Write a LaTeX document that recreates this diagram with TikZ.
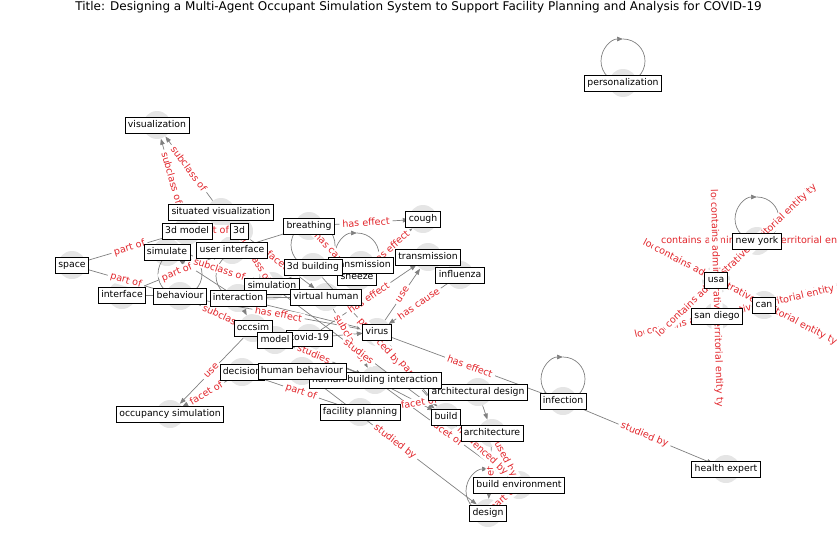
\documentclass[tikz,border=0pt]{standalone}
\usepackage{fontspec}
\setmainfont{DejaVu Sans}
\usetikzlibrary{arrows.meta}
\definecolor{labred}{RGB}{226,38,44}
\definecolor{edgegray}{RGB}{128,128,128}
\newcommand\nodefont{\fontsize{9.3}{11}\selectfont}
\newcommand\labfont{\fontsize{9.6}{11}\selectfont}
\newcommand\ttlfont{\fontsize{12}{14}\selectfont}

% concepts: name/x/y/text, boxes are stacked in this order
\def\concepts{personalization/623/83/personalization, visualization/157/125/visualization,
  sitvis/221/212/situated visualization, model3d/187/231/3d model, td/239/231/3d,
  breathing/309/226/breathing, cough/423/219/cough, simulate/167/252/simulate,
  ui/232/250/user interface, sneeze/357/277/sneeze, transA/361/265/transmission,
  building3d/313/267/3d building, transB/428/257/transmission, influenza/460/275/influenza,
  space/72/265/space, interface/122/295/interface, behaviour/180/296/behaviour,
  simulation/272/286/simulation, interaction/238/298/interaction, vhuman/326/297/virtual human,
  occsim/253/328/occsim, covid/309/338/covid-19, model/275/340/model, virus/377/332/virus,
  decision/242/372/decision, archdesign/478/392/architectural design,
  hbi/375/380/human building interaction, hbeh/302/371/human behaviour,
  infection/563/401/infection, occsimulation/170/414/occupancy simulation,
  facility/360/412/facility planning, build/446/417/build, architecture/492/433/architecture,
  buildenv/519/485/build environment, design/488/513/design, health/726/469/health expert,
  usa/716/280/usa, newyork/757/241/new york, can/764/305/can, sandiego/717/316/san diego}

% relations: from/to/label
\def\rels{model3d/visualization/subclass of, sitvis/visualization/subclass of,
  model3d/td/part of, space/model3d/part of, space/behaviour/part of,
  interface/ui/part of, simulate/simulation/subclass of, td/simulation/subclass of,
  td/vhuman/facet of, behaviour/model/subclass of, occsim/occsimulation/use,
  decision/occsimulation/facet of, breathing/cough/has effect, breathing/sneeze/has cause,
  sneeze/cough/has effect, covid/transB/has effect, virus/transB/use,
  influenza/virus/has cause, virus/behaviour/has effect, vhuman/hbi/subclass of,
  simulation/build/studies, building3d/build/produced by, build/virus/part of,
  occsim/hbi/studies, decision/facility/part of, virus/infection/has effect,
  infection/health/studied by, hbeh/design/studied by, facility/archdesign/facet of,
  hbi/buildenv/facet of, architecture/design/facet of, architecture/buildenv/used by,
  build/buildenv/influenced by, buildenv/design/part of,
  sandiego/can/located in the administrative territorial entity,
  can/sandiego/contains administrative territorial entity,
  can/usa/located in the administrative territorial entity,
  usa/can/contains administrative territorial entity,
  newyork/usa/located in the administrative territorial entity,
  usa/newyork/contains administrative territorial entity,
  sandiego/usa/located in the administrative territorial entity,
  usa/sandiego/contains administrative territorial entity}

\begin{document}
\begin{tikzpicture}[x=1pt, y=1pt, >={Triangle[length=6pt,width=4.5pt]},
    dot/.style={circle, fill=gray!20, minimum size=28pt, inner sep=0pt},
    concept/.style={draw, fill=white, line width=0.6pt, inner xsep=3pt, inner ysep=3.5pt,
      text height=7pt, text depth=2pt, font=\nodefont},
    rel/.style={->, draw=edgegray, line width=0.7pt},
    lab/.style={sloped, fill=white, text=labred, inner xsep=2.8pt, inner ysep=1pt, font=\labfont}]

  \useasboundingbox (0,0) rectangle (837,-559);

  \node[font=\ttlfont] (title) at (418.5,-7) {Title: Designing a Multi-Agent Occupant Simulation System to Support Facility Planning and Analysis for COVID-19};

  \foreach \n/\x/\y/\t in \concepts
    \node[dot] (\n) at (\x,-\y) {};

  % edges first, labels on top of them
  \foreach \a/\b/\t in \rels
    \draw[rel] (\a) -- (\b);
  \foreach \a/\b in {breathing/ui, vhuman/interaction, interaction/virus, simulation/building3d,
      archdesign/architecture, model/hbi, hbi/build, interface/behaviour, interaction/simulate,
      interaction/occsim, covid/virus}
    \draw[rel] (\a) -- (\b);
  \foreach \n in {personalization, newyork, infection, behaviour, interaction, sneeze, building3d, design} {
    \draw[rel] (\n.center) arc[start angle=-90, delta angle=-180, radius=22pt];
    \draw[draw=edgegray, line width=0.7pt] (\n.center) arc[start angle=-90, delta angle=180, radius=22pt];
  }

  \node[lab, sloped=false] (nyloop) at (newyork) {contains administrative territorial entity};
  \foreach \a/\b/\t in \rels
    \path (\a) -- node[lab] {\t} (\b);

  \foreach \n/\x/\y/\t in \concepts
    \node[concept] (\n-t) at (\n) {\t};
\end{tikzpicture}
\end{document}
